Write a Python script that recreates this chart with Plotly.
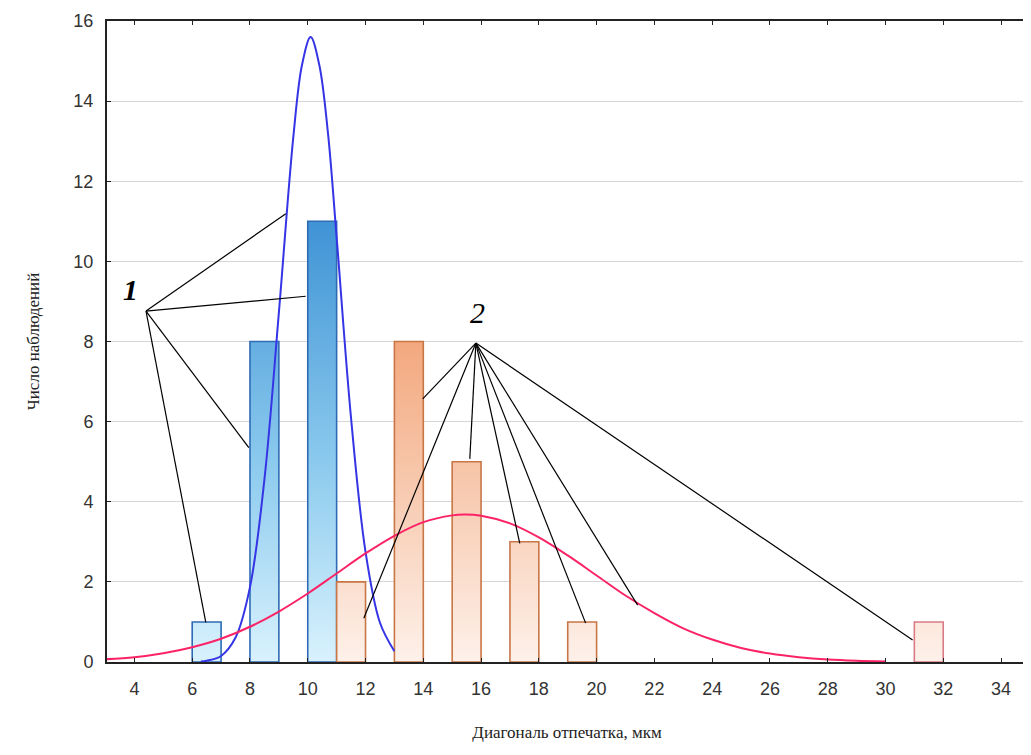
import plotly.graph_objects as go

# ---- data ----
blue_bin_left = [6, 8, 10]
blue_counts = [1, 8, 11]
orange_bin_left = [11, 13, 15, 17, 19, 31]
orange_counts = [2, 8, 5, 3, 1, 1]
bin_width = 1.0

blue_curve_x = [6.3, 6.5, 7.0, 7.5, 8.0, 8.5, 9.0, 9.5, 9.8, 10.1, 10.4, 10.7, 11.0, 11.5, 12.0, 12.5, 13.0]
blue_curve_y = [0.01, 0.03, 0.15, 0.61, 1.87, 4.56, 8.72, 13.1, 14.9, 15.6, 14.9, 13.2, 10.6, 6.08, 2.75, 0.98, 0.27]

red_curve_x = [3, 4, 5, 6, 7, 8, 9, 10, 11, 12, 13, 14, 15, 15.45, 16, 17, 18, 19, 20, 21, 22, 23, 24, 25, 26, 27, 28, 29, 30]
red_curve_y = [0.07, 0.12, 0.22, 0.37, 0.58, 0.88, 1.26, 1.71, 2.21, 2.71, 3.15, 3.49, 3.66, 3.68, 3.65, 3.46, 3.11,
               2.66, 2.16, 1.66, 1.22, 0.84, 0.56, 0.35, 0.21, 0.12, 0.063, 0.032, 0.015]

x_ticks = list(range(4, 35, 2))
y_ticks = list(range(0, 17, 2))

# leader-line annotation anchors
label1_text = "1"
label1_hub = (4.40, 8.76)
label1_pos = (3.88, 9.30)
label1_targets_x = [9.24, 9.93, 7.96, 6.47]
label1_targets_y = [11.19, 9.13, 5.35, 0.99]

label2_text = "2"
label2_hub = (15.82, 7.96)
label2_pos = (15.89, 8.72)
label2_targets_x = [13.98, 11.94, 15.61, 17.34, 19.62, 21.42, 30.94]
label2_targets_y = [6.57, 1.09, 5.07, 2.96, 0.97, 1.42, 0.55]

# ---- styles ----
blue_scale = [[0, "#d9f2fd"], [0.45, "#8ccaee"], [1, "#3f93d5"]]
orange_scale = [[0, "#fdf1ea"], [1, "#f3a87e"]]
blue_border = "#2e6bb4"
orange_border = ["#c87645", "#c87645", "#c87645", "#c87645", "#c87645", "#d97a86"]

fig = go.Figure()


def add_bars(lefts, counts, scale, borders, stop):
    for i, (l, h) in enumerate(zip(lefts, counts)):
        r = l + bin_width
        border = borders[i] if isinstance(borders, list) else borders
        fig.add_trace(go.Scatter(
            x=[l, l, r, r, l], y=[0, h, h, 0, 0],
            mode="lines", fill="toself",
            fillgradient=dict(type="vertical", colorscale=scale, start=0, stop=stop),
            line=dict(color=border, width=1.6),
            hoverinfo="skip", showlegend=False,
        ))


add_bars(blue_bin_left, blue_counts, blue_scale, blue_border, max(blue_counts))
add_bars(orange_bin_left, orange_counts, orange_scale, orange_border, max(orange_counts))

fig.add_trace(go.Scatter(x=blue_curve_x, y=blue_curve_y, mode="lines",
                         line=dict(color="#3535e6", width=2, shape="spline", smoothing=1.0),
                         showlegend=False, hoverinfo="skip"))
fig.add_trace(go.Scatter(x=red_curve_x, y=red_curve_y, mode="lines",
                         line=dict(color="#fb2366", width=2, shape="spline", smoothing=1.0),
                         showlegend=False, hoverinfo="skip"))

shapes = []
for hub, tx, ty in [(label1_hub, label1_targets_x, label1_targets_y),
                    (label2_hub, label2_targets_x, label2_targets_y)]:
    for x1, y1 in zip(tx, ty):
        shapes.append(dict(type="line", xref="x", yref="y", x0=hub[0], y0=hub[1], x1=x1, y1=y1,
                           line=dict(color="black", width=1.2), layer="above"))

annotations = [
    dict(x=label1_pos[0], y=label1_pos[1], xref="x", yref="y", text="<b><i>" + label1_text + "</i></b>",
         showarrow=False, font=dict(family="Liberation Serif", size=30, color="black")),
    dict(x=label2_pos[0], y=label2_pos[1], xref="x", yref="y", text="<i>" + label2_text + "</i>",
         showarrow=False, font=dict(family="Liberation Serif", size=30, color="black")),
]

axis_common = dict(
    showline=True, linecolor="#222", linewidth=2, mirror="ticks",
    ticks="inside", ticklen=4, tickcolor="#222", tickwidth=1,
    tickfont=dict(family="Liberation Sans", size=18, color="#333"),
    zeroline=False, automargin=False,
)

fig.update_layout(
    width=1022, height=738,
    margin=dict(l=99, r=3, t=13, b=84),
    paper_bgcolor="white", plot_bgcolor="white",
    shapes=shapes, annotations=annotations,
    xaxis=dict(range=[3.05, 34.9], tickvals=x_ticks, showgrid=False, ticklabelstandoff=9,
               title=dict(text="Диагональ отпечатка, мкм",
                          font=dict(family="Liberation Serif", size=17, color="#222"), standoff=29),
               **axis_common),
    yaxis=dict(range=[0, 16], tickvals=y_ticks, showgrid=True, gridcolor="#d6d6d6", gridwidth=1,
               ticklabelstandoff=8,
               title=dict(text="Число наблюдений",
                          font=dict(family="Liberation Serif", size=17, color="#222"), standoff=29),
               **axis_common),
)

fig.write_html("out.html")
